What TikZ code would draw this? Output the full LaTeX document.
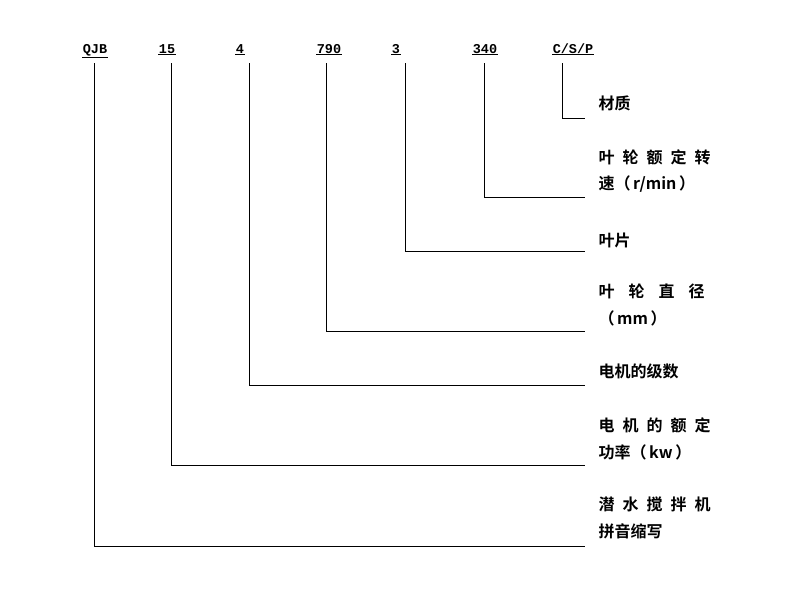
\documentclass[tikz,border=0pt]{standalone}
\usepackage{fontspec}
\newfontfamily\cjk{Noto Sans CJK SC}[BoldFont={Noto Sans CJK SC Bold}]
\newfontfamily\mono{Liberation Mono}
\newcommand\gp{\hspace{8pt}}
\newcommand\gq{\hspace{14pt}}
\begin{document}
\begin{tikzpicture}[x=1pt,y=-1pt,line width=1pt,
  code/.style={font=\mono\bfseries\fontsize{13.5}{14}\selectfont,anchor=base,inner sep=0pt},
  lab/.style={font=\cjk\bfseries\fontsize{16}{26.5}\selectfont,anchor=west,align=left,inner sep=0pt},
  ul/.style={line width=0.8pt}]
\useasboundingbox (0,0) rectangle (800,600);
\node[code] (a) at (95,53) {QJB};
\node[code] (b) at (167,53) {15};
\node[code] (c) at (240,53) {4};
\node[code] (d) at (329,53) {790};
\node[code] (e) at (396,53) {3};
\node[code] (f) at (485,53) {340};
\node[code] (g) at (573,53) {C/S/P};
\foreach \n in {a,b,c,d,e,f,g}{
  \draw[ul] ([yshift=-1pt]\n.south west) -- ([yshift=-1pt]\n.south east);
}
\node[lab] (tg) at (598,103) {材质};
\node[lab] (tf) at (598,171) {叶\gp 轮\gp 额\gp 定\gp 转\\速（\,r/min\,）};
\node[lab] (te) at (598,240) {叶片};
\node[lab] (td) at (598,305) {叶\gq 轮\gq 直\gq 径\\（\,mm\,）};
\node[lab] (tc) at (598,371) {电机的级数};
\node[lab] (tb) at (598,439) {电\gp 机\gp 的\gp 额\gp 定\\功率（\,kw\,）};
\node[lab] (ta) at (598,518) {潜\gp 水\gp 搅\gp 拌\gp 机\\拼音缩写};
\coordinate (ea) at (585,546);
\coordinate (eb) at (585,465);
\coordinate (ec) at (585,385);
\coordinate (ed) at (585,331);
\coordinate (ee) at (585,251);
\coordinate (ef) at (585,197);
\coordinate (eg) at (585,118);
\draw (94,63) |- (ea);
\draw (171,63) |- (eb);
\draw (249,63) |- (ec);
\draw (326,63) |- (ed);
\draw (405,63) |- (ee);
\draw (484,63) |- (ef);
\draw (562,63) |- (eg);
\end{tikzpicture}
\end{document}
